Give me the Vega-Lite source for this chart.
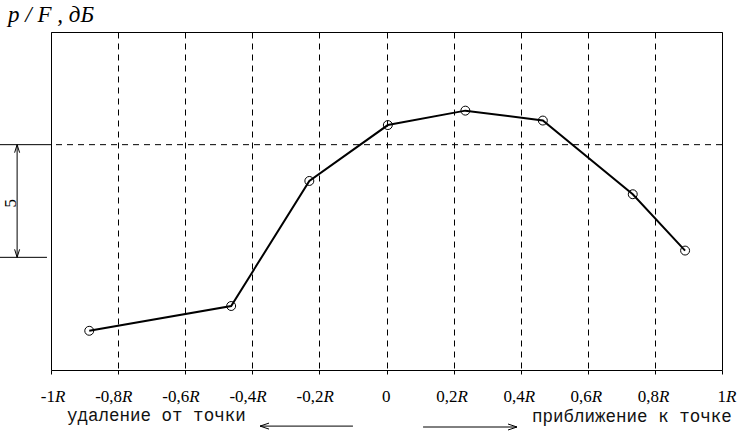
{
  "$schema": "https://vega.github.io/schema/vega-lite/v6.json",
  "width": 671,
  "height": 338,
  "autosize": {"type": "none"},
  "padding": {"left": 51, "top": 32, "right": 17, "bottom": 62},
  "background": "white",
  "config": {
    "view": {"stroke": "black", "strokeWidth": 1},
    "axisX": {
      "tickCount": 10,
      "labels": false,
      "domain": false,
      "grid": true,
      "gridColor": "black",
      "gridOpacity": 1,
      "gridDash": [6, 5],
      "gridWidth": 1,
      "ticks": true,
      "tickColor": "black",
      "tickSize": 4,
      "tickWidth": 1
    }
  },
  "datasets": {
    "meas": [
      {"x": -0.886, "y": 1.74},
      {"x": -0.463, "y": 2.84},
      {"x": -0.23, "y": 8.39},
      {"x": 0.004, "y": 10.87},
      {"x": 0.235, "y": 11.51},
      {"x": 0.466, "y": 11.07},
      {"x": 0.734, "y": 7.8},
      {"x": 0.89, "y": 5.3}
    ],
    "ticks": [
      {"v": -1, "n": "-1"},
      {"v": -0.8, "n": "-0,8"},
      {"v": -0.6, "n": "-0,6"},
      {"v": -0.4, "n": "-0,4"},
      {"v": -0.2, "n": "-0,2"},
      {"v": 0, "n": "0"},
      {"v": 0.2, "n": "0,2"},
      {"v": 0.4, "n": "0,4"},
      {"v": 0.6, "n": "0,6"},
      {"v": 0.8, "n": "0,8"},
      {"v": 1, "n": "1"}
    ],
    "one": [{}]
  },
  "layer": [
    {
      "data": {"name": "one"},
      "mark": {"type": "rule", "color": "black", "strokeWidth": 1, "strokeDash": [6, 5]},
      "encoding": {
        "y": {"datum": 10, "type": "quantitative", "scale": {"domain": [0, 15], "nice": false, "zero": false}, "axis": null}
      }
    },
    {
      "data": {"name": "meas"},
      "mark": {"type": "line", "color": "black", "strokeWidth": 2},
      "encoding": {
        "x": {"field": "x", "type": "quantitative", "scale": {"domain": [-1, 1], "nice": false, "zero": false}, "title": null},
        "y": {"field": "y", "type": "quantitative", "axis": null}
      }
    },
    {
      "data": {"name": "meas"},
      "mark": {"type": "point", "shape": "circle", "filled": false, "size": 80, "stroke": "black", "strokeWidth": 1, "opacity": 1},
      "encoding": {
        "x": {"field": "x", "type": "quantitative", "title": null},
        "y": {"field": "y", "type": "quantitative", "axis": null}
      }
    },
    {
      "data": {"name": "one"},
      "mark": {"type": "rule", "color": "black", "strokeWidth": 1},
      "encoding": {
        "x": {"datum": -1.152, "type": "quantitative", "title": null},
        "x2": {"datum": -1},
        "y": {"datum": 10, "type": "quantitative", "axis": null}
      }
    },
    {
      "data": {"name": "one"},
      "mark": {"type": "rule", "color": "black", "strokeWidth": 1},
      "encoding": {
        "x": {"datum": -1.152, "type": "quantitative", "title": null},
        "x2": {"datum": -1.012},
        "y": {"datum": 5, "type": "quantitative", "axis": null}
      }
    },
    {
      "data": {"name": "one"},
      "mark": {"type": "rule", "color": "black", "strokeWidth": 1},
      "encoding": {
        "x": {"datum": -1.101, "type": "quantitative", "title": null},
        "y": {"datum": 5, "type": "quantitative", "axis": null},
        "y2": {"datum": 10}
      }
    },
    {
      "data": {"name": "one"},
      "mark": {"type": "point", "shape": "M-0.5,1.6L0,0L0.5,1.6", "filled": false, "size": 100, "stroke": "black", "strokeWidth": 1, "opacity": 1},
      "encoding": {
        "x": {"datum": -1.101, "type": "quantitative", "title": null},
        "y": {"datum": 10, "type": "quantitative", "axis": null}
      }
    },
    {
      "data": {"name": "one"},
      "mark": {"type": "point", "shape": "M-0.5,-1.6L0,0L0.5,-1.6", "filled": false, "size": 100, "stroke": "black", "strokeWidth": 1, "opacity": 1},
      "encoding": {
        "x": {"datum": -1.101, "type": "quantitative", "title": null},
        "y": {"datum": 5, "type": "quantitative", "axis": null}
      }
    },
    {
      "data": {"name": "one"},
      "mark": {"type": "rule", "color": "black", "strokeWidth": 1},
      "encoding": {
        "x": {"datum": -0.377, "type": "quantitative", "title": null},
        "x2": {"datum": -0.1},
        "y": {"datum": -2.49, "type": "quantitative", "axis": null}
      }
    },
    {
      "data": {"name": "one"},
      "mark": {"type": "point", "shape": "M1.8,-0.6L0,0L1.8,0.6", "filled": false, "size": 100, "stroke": "black", "strokeWidth": 1, "opacity": 1},
      "encoding": {
        "x": {"datum": -0.377, "type": "quantitative", "title": null},
        "y": {"datum": -2.49, "type": "quantitative", "axis": null}
      }
    },
    {
      "data": {"name": "one"},
      "mark": {"type": "rule", "color": "black", "strokeWidth": 1},
      "encoding": {
        "x": {"datum": 0.109, "type": "quantitative", "title": null},
        "x2": {"datum": 0.389},
        "y": {"datum": -2.53, "type": "quantitative", "axis": null}
      }
    },
    {
      "data": {"name": "one"},
      "mark": {"type": "point", "shape": "M-1.8,-0.6L0,0L-1.8,0.6", "filled": false, "size": 100, "stroke": "black", "strokeWidth": 1, "opacity": 1},
      "encoding": {
        "x": {"datum": 0.389, "type": "quantitative", "title": null},
        "y": {"datum": -2.53, "type": "quantitative", "axis": null}
      }
    },
    {
      "data": {"name": "one"},
      "mark": {"type": "text", "text": "удаление от точки", "font": "Liberation Mono", "fontSize": 17.5, "align": "left", "baseline": "alphabetic", "color": "#111"},
      "encoding": {
        "x": {"datum": -0.952, "type": "quantitative", "title": null},
        "y": {"datum": -2.26, "type": "quantitative", "axis": null}
      }
    },
    {
      "data": {"name": "one"},
      "mark": {"type": "text", "text": "приближение к точке", "font": "Liberation Mono", "fontSize": 17.5, "align": "left", "baseline": "alphabetic", "color": "#111"},
      "encoding": {
        "x": {"datum": 0.434, "type": "quantitative", "title": null},
        "y": {"datum": -2.31, "type": "quantitative", "axis": null}
      }
    },
    {
      "data": {"name": "ticks"},
      "mark": {"type": "text", "font": "Liberation Serif", "fontSize": 17, "align": "right", "baseline": "middle", "dx": 4, "color": "black"},
      "encoding": {
        "x": {"field": "v", "type": "quantitative", "title": null},
        "y": {"datum": -1.22, "type": "quantitative", "axis": null},
        "text": {"field": "n"}
      }
    },
    {
      "data": {"name": "ticks"},
      "transform": [{"filter": "datum.v != 0"}],
      "mark": {"type": "text", "text": "R", "font": "Liberation Serif", "fontStyle": "italic", "fontSize": 17, "align": "left", "baseline": "middle", "dx": 4, "color": "black"},
      "encoding": {
        "x": {"field": "v", "type": "quantitative", "title": null},
        "y": {"datum": -1.22, "type": "quantitative", "axis": null}
      }
    },
    {
      "data": {"name": "one"},
      "mark": {"type": "text", "text": "p / F , дБ", "font": "Liberation Serif", "fontStyle": "italic", "fontSize": 23, "align": "left", "baseline": "alphabetic", "color": "black"},
      "encoding": {
        "x": {"datum": -1.128, "type": "quantitative", "title": null},
        "y": {"datum": 15.45, "type": "quantitative", "axis": null}
      }
    },
    {
      "data": {"name": "one"},
      "mark": {"type": "text", "text": "5", "font": "Liberation Serif", "fontSize": 17, "angle": 270, "align": "center", "baseline": "middle", "color": "black"},
      "encoding": {
        "x": {"datum": -1.119, "type": "quantitative", "title": null},
        "y": {"datum": 7.4, "type": "quantitative", "axis": null}
      }
    }
  ]
}
